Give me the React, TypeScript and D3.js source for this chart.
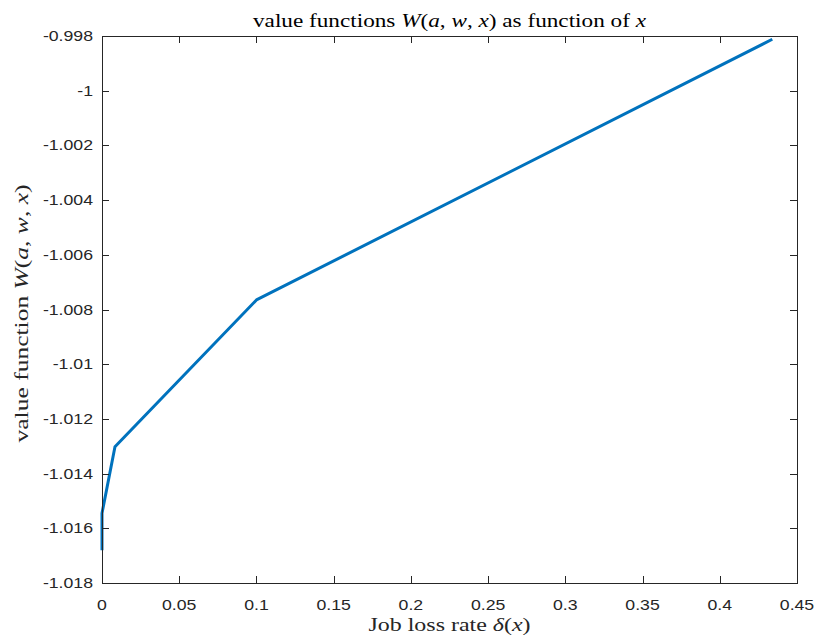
import React, { useEffect, useRef } from "react";
import * as d3 from "d3";

// Job loss rate values and the corresponding value function W(a,w,x)
const jobLossRate = [0, 0, 0.0084, 0.1, 0.434];
const valueW = [-1.0168, -1.01545, -1.01302, -1.00765, -0.99812];

const xTicks = [0, 0.05, 0.1, 0.15, 0.2, 0.25, 0.3, 0.35, 0.4, 0.45];
const yTicks = [-1.018, -1.016, -1.014, -1.012, -1.01, -1.008, -1.006, -1.004, -1.002, -1, -0.998];

const W = 819;
const H = 642;
const margin = { left: 102, right: 22, top: 36, bottom: 59 };

type Piece = [string, boolean];

const titlePieces: Piece[] = [
  ["value functions ", false], ["W", true], ["(", false], ["a", true], [", ", false],
  ["w", true], [", ", false], ["x", true], [") as function of ", false], ["x", true],
];
const xLabelPieces: Piece[] = [["Job loss rate ", false], ["δ", true], ["(", false], ["x", true], [")", false]];
const yLabelPieces: Piece[] = [
  ["value function ", false], ["W", true], ["(", false], ["a", true], [", ", false],
  ["w", true], [", ", false], ["x", true], [")", false],
];

export default function App() {
  const ref = useRef<SVGSVGElement | null>(null);

  useEffect(() => {
    const svg = d3.select(ref.current);
    svg.selectAll("*").remove();

    const x = d3.scaleLinear().domain([0, 0.45]).range([margin.left, W - margin.right]);
    const y = d3.scaleLinear().domain([-1.018, -0.998]).range([H - margin.bottom, margin.top]);
    const x0 = x.range()[0], x1 = x.range()[1];
    const y0 = y.range()[0], y1 = y.range()[1];
    const axisColor = "#262626";
    const tickLen = 7;
    const sans = "'Liberation Sans', Arial, Helvetica, sans-serif";
    const serif = "'Liberation Serif', 'Times New Roman', serif";

    svg.append("rect").attr("width", W).attr("height", H).attr("fill", "#fff");

    // line
    const pts = jobLossRate.map((d, i) => [d, valueW[i]] as [number, number]);
    const line = d3.line<[number, number]>().x((d) => x(d[0])).y((d) => y(d[1]));
    svg.append("path")
      .attr("d", line(pts))
      .attr("fill", "none")
      .attr("stroke", "#0072BD")
      .attr("stroke-width", 3)
      .attr("stroke-linejoin", "round");

    // box
    svg.append("rect")
      .attr("x", x0 + 0.5).attr("y", y1 + 0.5)
      .attr("width", x1 - x0).attr("height", y0 - y1)
      .attr("fill", "none").attr("stroke", axisColor).attr("stroke-width", 1);

    const g = svg.append("g").attr("stroke", axisColor).attr("stroke-width", 1);
    xTicks.forEach((t) => {
      const px = Math.round(x(t)) + 0.5;
      g.append("line").attr("x1", px).attr("x2", px).attr("y1", y0).attr("y2", y0 - tickLen);
      g.append("line").attr("x1", px).attr("x2", px).attr("y1", y1).attr("y2", y1 + tickLen);
    });
    yTicks.forEach((t) => {
      const py = Math.round(y(t)) + 0.5;
      g.append("line").attr("x1", x0).attr("x2", x0 + tickLen).attr("y1", py).attr("y2", py);
      g.append("line").attr("x1", x1).attr("x2", x1 - tickLen).attr("y1", py).attr("y2", py);
    });

    // tick labels
    xTicks.forEach((t) => {
      svg.append("g")
        .attr("transform", `translate(${x(t)},${y0 + 27}) scale(1.22,1)`)
        .append("text")
        .attr("text-anchor", "middle")
        .attr("font-family", sans)
        .attr("font-size", 14.5)
        .attr("fill", axisColor)
        .text(String(t));
    });
    yTicks.forEach((t) => {
      svg.append("g")
        .attr("transform", `translate(${x0 - 9},${y(t) + 5}) scale(1.22,1)`)
        .append("text")
        .attr("text-anchor", "end")
        .attr("font-family", sans)
        .attr("font-size", 14.5)
        .attr("fill", axisColor)
        .text(String(t));
    });

    const addLabel = (
      pieces: Piece[],
      transform: string,
      length: number,
      color: string
    ) => {
      const t = svg.append("text")
        .attr("transform", transform)
        .attr("x", -length / 2)
        .attr("y", 0)
        .attr("font-family", serif)
        .attr("font-size", 19)
        .attr("fill", color)
        .attr("textLength", length)
        .attr("lengthAdjust", "spacingAndGlyphs");
      pieces.forEach(([s, it]) => {
        const sp = t.append("tspan").text(s);
        if (it) sp.attr("font-style", "italic");
      });
    };

    const cx = (x0 + x1) / 2;
    addLabel(titlePieces, `translate(${cx},27)`, 393, "#000");
    addLabel(xLabelPieces, `translate(${cx},631)`, 162, "#262626");
    addLabel(yLabelPieces, `translate(28,${(y0 + y1) / 2 + 4}) rotate(-90)`, 258, "#262626");
  }, []);

  return (
    <svg
      ref={ref}
      width={W}
      height={H}
      style={{ position: "absolute", left: 0, top: 0, display: "block" }}
    />
  );
}
